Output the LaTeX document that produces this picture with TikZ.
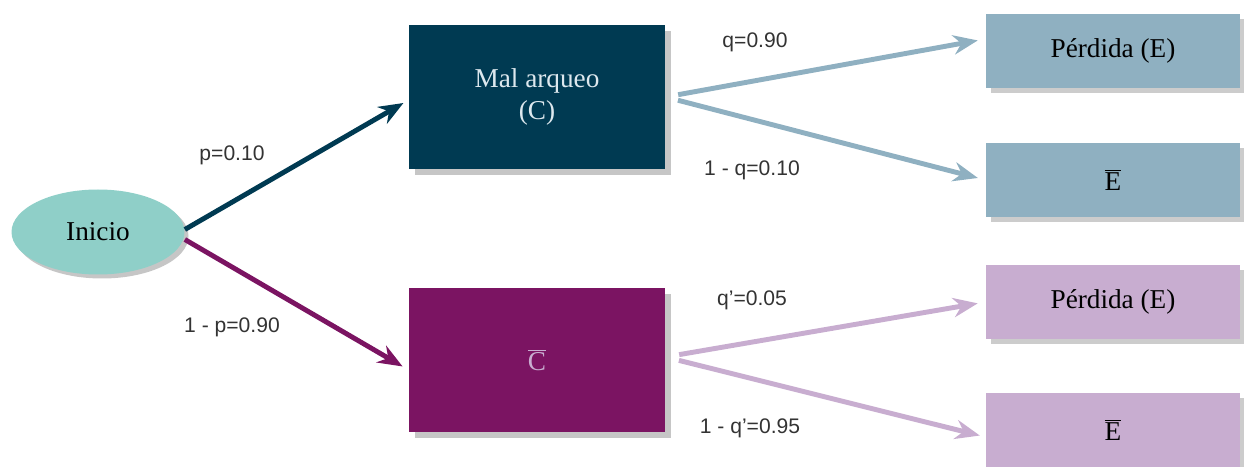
\documentclass[tikz,border=0pt]{standalone}
\usepackage{fontspec}
\setmainfont{Liberation Serif}
\setsansfont{Liberation Sans}
\usepackage{xcolor}
\usetikzlibrary{arrows.meta, positioning, shapes.geometric, shadows}
\definecolor{inicioTeal}{HTML}{8FCFC8}
\definecolor{darkTeal}{HTML}{003A52}
\definecolor{plum}{HTML}{7B1462}
\definecolor{paleBlue}{HTML}{8FB0C1}
\definecolor{lilac}{HTML}{C8ADD0}
\definecolor{paleText}{HTML}{DDE8EE}

\begin{document}
\begin{tikzpicture}[
    box/.style={rectangle, minimum width=5.12cm, minimum height=2.88cm,
      font=\fontsize{15.5}{18}\selectfont,
      drop shadow={shadow xshift=0.12cm, shadow yshift=-0.12cm, fill=gray!45, opacity=1}},
    leaf/.style={rectangle, minimum width=5.08cm, minimum height=1.48cm,
      font=\fontsize{15.5}{18}\selectfont,
      drop shadow={shadow xshift=0.1cm, shadow yshift=-0.1cm, fill=gray!40, opacity=1}},
    prob/.style={font=\sffamily\fontsize{12}{14}\selectfont, text=black!80},
    branch/.style={line width=2.8pt, -{Stealth[length=14pt, width=11pt]}}
  ]
  \useasboundingbox (0,0) rectangle (24.88,9.32);
  % Root
  \node[ellipse, fill=inicioTeal, minimum width=3.46cm, minimum height=1.7cm,
        font=\fontsize{15.5}{18}\selectfont,
        drop shadow={shadow xshift=0.08cm, shadow yshift=-0.08cm, fill=gray!45, opacity=1}]
        (inicio) at (1.96,4.68) {Inicio};
  % First level
  \node[box, fill=darkTeal, text=paleText, align=center] (malarqueo) at (10.74,7.38) {Mal arqueo\\(C)};
  \node[box, fill=plum, text=lilac] (cbar) at (10.74,2.12) {$\overline{\textrm{C}}$};
  % Leaves
  \node[leaf, fill=paleBlue] (perdidaA) at (22.26,8.30) {Pérdida (E)};
  \node[leaf, fill=paleBlue] (ebarA) at (22.26,5.72) {$\overline{\textrm{E}}$};
  \node[leaf, fill=lilac] (perdidaB) at (22.26,3.28) {Pérdida (E)};
  \node[leaf, fill=lilac] (ebarB) at (22.26,0.72) {$\overline{\textrm{E}}$};
  % Branches
  \draw[branch, darkTeal, shorten >=0.12cm] ([yshift=0.05cm]inicio.east) -- ([yshift=-0.06cm]malarqueo.west);
  \draw[branch, plum, shorten >=0.14cm] ([yshift=-0.15cm]inicio.east) -- ([yshift=-0.2cm]cbar.west);
  \draw[branch, paleBlue, shorten <=0.26cm, shorten >=0.16cm] (malarqueo.east) -- ([yshift=0.24cm]perdidaA.west);
  \draw[branch, paleBlue, shorten <=0.26cm, shorten >=0.16cm] (malarqueo.east) -- (ebarA.west);
  \draw[branch, lilac, shorten <=0.28cm, shorten >=0.16cm] ([yshift=0.06cm]cbar.east) -- (perdidaB.west);
  \draw[branch, lilac, shorten <=0.28cm, shorten >=0.12cm] ([yshift=0.06cm]cbar.east) -- ([yshift=-0.14cm]ebarB.west);
  % Probabilities
  \node[prob] (pA) at (4.64,6.22) {p=0.10};
  \node[prob] (pB) at (4.64,2.78) {1 - p=0.90};
  \node[prob] (qA) at (15.10,8.48) {q=0.90};
  \node[prob] (qB) at (15.04,5.92) {1 - q=0.10};
  \node[prob] (qC) at (15.04,3.32) {q'=0.05};
  \node[prob] (qD) at (15.00,0.76) {1 - q'=0.95};
\end{tikzpicture}
\end{document}
